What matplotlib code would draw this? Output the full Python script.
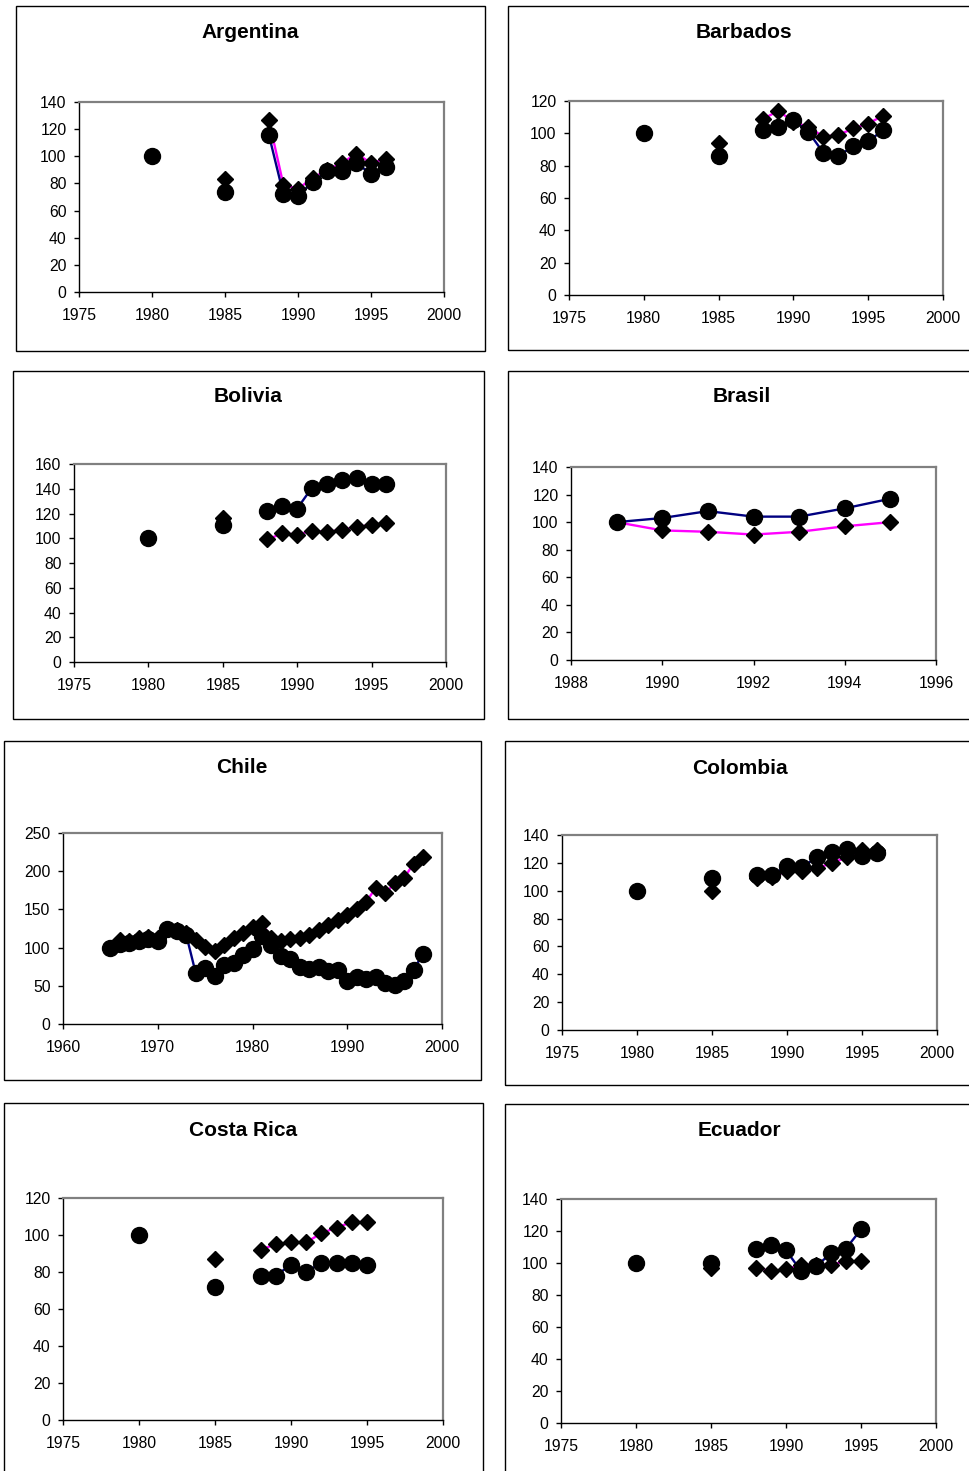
import numpy as np
import matplotlib
matplotlib.use("Agg")
import matplotlib.pyplot as plt
from matplotlib.patches import Rectangle

plt.rcParams['font.family'] = ['Liberation Sans', 'DejaVu Sans']

# ---------------- data ----------------
ARG_YEARS = [1980, 1985, 1988, 1989, 1990, 1991, 1992, 1993, 1994, 1995, 1996]
ARG_CIRC = [100, 74, 116, 72, 71, 81, 89, 89, 95, 87, 92]
ARG_DIAM = [100, 83, 127, 79, 76, 84, 90, 95, 102, 95, 98]

BRB_YEARS = [1980, 1985, 1988, 1989, 1990, 1991, 1992, 1993, 1994, 1995, 1996]
BRB_CIRC = [100, 86, 102, 104, 108, 101, 88, 86, 92, 95, 102]
BRB_DIAM = [100, 94, 109, 114, 107, 104, 98, 99, 103, 106, 111]

BOL_YEARS = [1980, 1985, 1988, 1989, 1990, 1991, 1992, 1993, 1994, 1995, 1996]
BOL_CIRC = [100, 111, 122, 126, 124, 141, 144, 147, 149, 144, 144]
BOL_DIAM = [100, 116, 99, 104, 103, 106, 105, 107, 109, 111, 112]

BRA_YEARS = [1989, 1990, 1991, 1992, 1993, 1994, 1995]
BRA_CIRC = [100, 103, 108, 104, 104, 110, 117]
BRA_DIAM = [100, 94, 93, 91, 93, 97, 100]

CHL_YEARS = list(range(1965, 1999))
CHL_CIRC = [100, 105, 106, 109, 111, 109, 124, 122, 117, 67, 73, 63, 77, 80, 90, 98,
            115, 104, 89, 85, 75, 72, 75, 69, 71, 56, 61, 59, 61, 54, 51, 56, 71, 92]
CHL_DIAM = [100, 110, 108, 112, 114, 112, 125, 123, 119, 110, 101, 96, 104, 112, 119, 127,
            132, 112, 108, 111, 112, 117, 123, 130, 136, 143, 150, 160, 178, 171, 184, 191, 210, 218]

COL_YEARS = [1980, 1985, 1988, 1989, 1990, 1991, 1992, 1993, 1994, 1995, 1996]
COL_CIRC = [100, 109, 111, 111, 118, 117, 124, 128, 130, 125, 127]
COL_DIAM = [100, 100, 109, 110, 114, 114, 116, 120, 124, 129, 129]

CRI_YEARS = [1980, 1985, 1988, 1989, 1990, 1991, 1992, 1993, 1994, 1995]
CRI_CIRC = [100, 72, 78, 78, 84, 80, 85, 85, 85, 84]
CRI_DIAM = [100, 87, 92, 95, 96, 96, 101, 104, 107, 107]

ECU_YEARS = [1980, 1985, 1988, 1989, 1990, 1991, 1992, 1993, 1994, 1995]
ECU_CIRC = [100, 100, 109, 111, 108, 95, 98, 106, 109, 121]
ECU_DIAM = [100, 97, 97, 95, 96, 99, 99, 99, 101, 101]

TITLES = ["Argentina", "Barbados", "Bolivia", "Brasil", "Chile", "Colombia", "Costa Rica", "Ecuador"]

SERIES = [
    (ARG_YEARS, ARG_CIRC, ARG_DIAM),
    (BRB_YEARS, BRB_CIRC, BRB_DIAM),
    (BOL_YEARS, BOL_CIRC, BOL_DIAM),
    (BRA_YEARS, BRA_CIRC, BRA_DIAM),
    (CHL_YEARS, CHL_CIRC, CHL_DIAM),
    (COL_YEARS, COL_CIRC, COL_DIAM),
    (CRI_YEARS, CRI_CIRC, CRI_DIAM),
    (ECU_YEARS, ECU_CIRC, ECU_DIAM),
]

X_TICKS = [
    [1975, 1980, 1985, 1990, 1995, 2000],
    [1975, 1980, 1985, 1990, 1995, 2000],
    [1975, 1980, 1985, 1990, 1995, 2000],
    [1988, 1990, 1992, 1994, 1996],
    [1960, 1970, 1980, 1990, 2000],
    [1975, 1980, 1985, 1990, 1995, 2000],
    [1975, 1980, 1985, 1990, 1995, 2000],
    [1975, 1980, 1985, 1990, 1995, 2000],
]
Y_TICKS = [
    [0, 20, 40, 60, 80, 100, 120, 140],
    [0, 20, 40, 60, 80, 100, 120],
    [0, 20, 40, 60, 80, 100, 120, 140, 160],
    [0, 20, 40, 60, 80, 100, 120, 140],
    [0, 50, 100, 150, 200, 250],
    [0, 20, 40, 60, 80, 100, 120, 140],
    [0, 20, 40, 60, 80, 100, 120],
    [0, 20, 40, 60, 80, 100, 120, 140],
]

# ---------------- layout (pixels) ----------------
W, H = 969, 1471
BOXES = [  # x0, y0, x1, y1 of each chart frame
    (16, 6, 485, 351), (508, 6, 980, 350),
    (13, 371, 484, 719), (508, 371, 980, 719),
    (4, 741, 481, 1080), (505, 741, 980, 1085),
    (4, 1103, 483, 1490), (505, 1104, 980, 1490),
]
AXES = [  # x0, y0, x1, y1 of plot areas
    (79, 102, 444, 292), (569, 101, 943, 295),
    (74, 464, 446, 662), (571, 467, 936, 660),
    (63, 833, 442, 1024), (562, 835, 937, 1030),
    (63, 1198, 443, 1420), (561, 1199, 936, 1423),
]
TITLE_POS = [(250, 32), (744, 32), (248, 397), (742, 397),
             (242, 767), (740, 768), (243, 1130), (739, 1131)]

NAVY = '#000080'
MAGENTA = '#FF00FF'

fig = plt.figure(figsize=(W / 100, H / 100), dpi=100)
fig.patch.set_facecolor('white')


def segments(years, vals):
    years = np.asarray(years)
    vals = np.asarray(vals, dtype=float)
    breaks = np.where(np.diff(years) > 1)[0] + 1
    return zip(np.split(years, breaks), np.split(vals, breaks))


for i in range(8):
    bx0, by0, bx1, by1 = BOXES[i]
    fig.patches.append(Rectangle((bx0 / W, 1 - by1 / H), (bx1 - bx0) / W, (by1 - by0) / H,
                                 transform=fig.transFigure, fill=False,
                                 edgecolor='black', linewidth=1.0))
    tx, ty = TITLE_POS[i]
    fig.text(tx / W, 1 - ty / H, TITLES[i], ha='center', va='center',
             fontsize=15, fontweight='bold')

    x0, y0, x1, y1 = AXES[i]
    ax = fig.add_axes([x0 / W, 1 - y1 / H, (x1 - x0) / W, (y1 - y0) / H])
    years, circ, diam = SERIES[i]

    for sx, sy in segments(years, diam):
        if len(sx) > 1:
            ax.plot(sx, sy, color=MAGENTA, linewidth=1.7, zorder=1, clip_on=False)
    for sx, sy in segments(years, circ):
        if len(sx) > 1:
            ax.plot(sx, sy, color=NAVY, linewidth=1.7, zorder=1, clip_on=False)
    ax.plot(years, diam, linestyle='none', marker='D', markersize=8.0,
            color='black', zorder=2, clip_on=False)
    ax.plot(years, circ, linestyle='none', marker='o', markersize=11.5,
            color='black', zorder=3, clip_on=False)

    xt = X_TICKS[i]
    yt = Y_TICKS[i]
    ax.set_xlim(xt[0], xt[-1])
    ax.set_ylim(yt[0], yt[-1])
    ax.set_xticks(xt)
    ax.set_yticks(yt)
    ax.set_xticklabels([str(v) for v in xt])
    ax.set_yticklabels([str(v) for v in yt])
    ax.tick_params(axis='both', direction='out', length=3.5, width=1.0,
                   labelsize=11.3, colors='black')
    ax.tick_params(axis='x', pad=8.0)
    ax.tick_params(axis='y', pad=5.5)
    ax.spines['left'].set_color('black')
    ax.spines['bottom'].set_color('black')
    ax.spines['left'].set_linewidth(1.0)
    ax.spines['bottom'].set_linewidth(1.0)
    ax.spines['top'].set_color('#808080')
    ax.spines['right'].set_color('#808080')
    ax.spines['top'].set_linewidth(1.6)
    ax.spines['right'].set_linewidth(1.6)
    ax.set_facecolor('white')

fig.savefig('out.png', dpi=100, facecolor='white')
